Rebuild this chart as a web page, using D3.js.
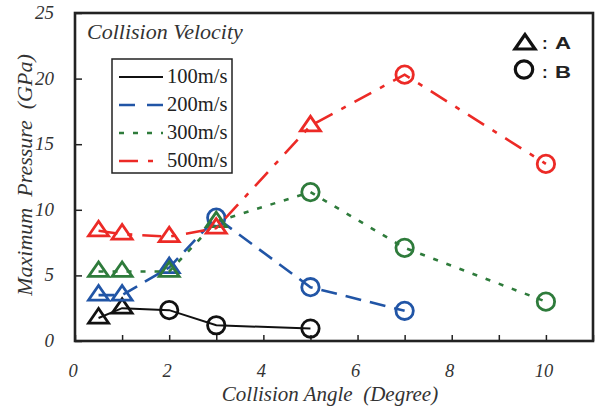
<!DOCTYPE html>
<html>
<head>
<meta charset="utf-8">
<script src="https://cdn.jsdelivr.net/npm/d3@7"></script>
<style>
  body { margin: 0; background: #fff; }
  svg { display: block; }
</style>
</head>
<body>
<div id="chart"></div>
<script>
// chart values
const xTicks = [0, 1, 2, 3, 4, 5, 6, 7, 8, 9, 10, 11];
const xTickLabels = [0, 2, 4, 6, 8, 10];
const yTicks = [0, 5, 10, 15, 20, 25];

const seriesNames = ["100m/s", "200m/s", "300m/s", "500m/s"];
const seriesColors = ["#111111", "#2155a6", "#2e7b3b", "#ec2a26"];

const v100X = [0.5, 1, 2, 3, 5];
const v100Y = [1.75, 2.5, 2.35, 1.2, 0.95];
const v100Type = ["A", "A", "B", "B", "B"];

const v200X = [0.5, 1, 2, 3, 5, 7];
const v200Y = [3.5, 3.5, 5.6, 9.4, 4.1, 2.3];
const v200Type = ["A", "A", "A", "B", "B", "B"];

const v300X = [0.5, 1, 2, 3, 5, 7, 10];
const v300Y = [5.3, 5.3, 5.3, 9.1, 11.35, 7.1, 3.0];
const v300Type = ["A", "A", "A", "A", "B", "B", "B"];

const v500X = [0.5, 1, 2, 3, 5, 7, 10];
const v500Y = [8.4, 8.15, 7.95, 8.6, 16.4, 20.3, 13.5];
const v500Type = ["A", "A", "A", "A", "A", "B", "B"];

const width = 595;
const height = 407;
const plotL = 75, plotR = 593, plotT = 13, plotB = 341;
const serif = "'Liberation Serif', 'Times New Roman', 'DejaVu Serif', serif";

const dashes = [null, "16,9", "5,9", "19,10,5,10"];

const svg = d3.select("#chart")
  .append("svg")
    .attr("width", width)
    .attr("height", height);

const x = d3.scaleLinear().domain([0, 11]).range([plotL, plotR]);
const y = d3.scaleLinear().domain([0, 25]).range([plotB, plotT]);

// axes with inward ticks
svg.append("g")
    .attr("transform", `translate(0,${plotB})`)
    .call(d3.axisTop(x).tickValues(xTicks).tickSize(6).tickFormat(""))
    .call(g => g.select(".domain").remove())
    .selectAll("line").attr("stroke", "#222").attr("stroke-width", 1.5);

svg.append("g")
    .attr("transform", `translate(${plotL},0)`)
    .call(d3.axisRight(y).tickValues(yTicks).tickSize(7).tickFormat(""))
    .call(g => g.select(".domain").remove())
    .selectAll("line").attr("stroke", "#222").attr("stroke-width", 1.5);

// frame
svg.append("rect")
    .attr("x", plotL).attr("y", plotT)
    .attr("width", plotR - plotL).attr("height", plotB - plotT)
    .attr("fill", "none").attr("stroke", "#222").attr("stroke-width", 2.6);

// tick labels
svg.append("g").selectAll("text")
  .data(yTicks)
  .join("text")
    .attr("x", plotL - 21)
    .attr("y", d => y(d) + 6)
    .attr("text-anchor", "end")
    .attr("font-family", serif)
    .attr("font-style", "italic")
    .attr("font-size", 19)
    .attr("fill", "#333")
    .text(d => d);

svg.append("g").selectAll("text")
  .data(xTickLabels)
  .join("text")
    .attr("x", d => x(d) - 2)
    .attr("y", 377)
    .attr("text-anchor", "middle")
    .attr("font-family", serif)
    .attr("font-style", "italic")
    .attr("font-size", 18.5)
    .attr("fill", "#333")
    .text(d => d);

// axis titles
svg.append("text")
    .attr("x", 330).attr("y", 401)
    .attr("text-anchor", "middle")
    .attr("font-family", serif)
    .attr("font-style", "italic")
    .attr("font-size", 21)
    .attr("fill", "#333")
    .attr("xml:space", "preserve")
    .text("Collision Angle  (Degree)");

svg.append("text")
    .attr("transform", "translate(32,175) rotate(-90)")
    .attr("text-anchor", "middle")
    .attr("font-family", serif)
    .attr("font-style", "italic")
    .attr("font-size", 22)
    .attr("fill", "#333")
    .attr("xml:space", "preserve")
    .text("Maximum  Pressure  (GPa)");

svg.append("text")
    .attr("x", 87).attr("y", 39)
    .attr("font-family", serif)
    .attr("font-style", "italic")
    .attr("font-size", 22)
    .attr("fill", "#333")
    .text("Collision Velocity");

// markers
const triPath = "M0,-9.5L-10,5L10,5Z";
function drawMarker(g, type, color) {
  if (type === "A") {
    g.append("path").attr("d", triPath);
  } else {
    g.append("circle").attr("r", 8.7);
  }
  g.selectAll("path, circle")
    .attr("fill", "none")
    .attr("stroke", color)
    .attr("stroke-width", 2.8)
    .attr("stroke-linejoin", "miter");
}

const allX = [v100X, v200X, v300X, v500X];
const allY = [v100Y, v200Y, v300Y, v500Y];
const allType = [v100Type, v200Type, v300Type, v500Type];

const line = d3.line().x(d => x(d.x)).y(d => y(d.y));

seriesNames.forEach((name, i) => {
  const pts = allX[i].map((v, j) => ({x: v, y: allY[i][j], t: allType[i][j]}));
  const g = svg.append("g");
  g.append("path")
      .datum(pts)
      .attr("d", line)
      .attr("fill", "none")
      .attr("stroke", seriesColors[i])
      .attr("stroke-width", i === 0 ? 2 : 2.6)
      .attr("stroke-dasharray", dashes[i]);
  pts.forEach(p => {
    const m = g.append("g").attr("transform", `translate(${x(p.x)},${y(p.y)})`);
    drawMarker(m, p.t, seriesColors[i]);
  });
});

// series legend
const legend = svg.append("g");
legend.append("rect")
    .attr("x", 112).attr("y", 59)
    .attr("width", 120).attr("height", 114)
    .attr("fill", "#fff").attr("stroke", "#222").attr("stroke-width", 1.5);
const legY = [77, 105, 133, 161];
seriesNames.forEach((name, i) => {
  legend.append("line")
      .attr("x1", 119).attr("x2", 163)
      .attr("y1", legY[i]).attr("y2", legY[i])
      .attr("stroke", seriesColors[i])
      .attr("stroke-width", i === 0 ? 2 : 2.6)
      .attr("stroke-dasharray", i === 0 ? null : (i === 1 ? "16,12" : (i === 2 ? "5,9" : "19,10,5,10")));
  legend.append("text")
      .attr("x", 167).attr("y", legY[i] + 6)
      .attr("font-family", serif)
      .attr("font-size", 20.5)
      .attr("fill", "#222")
      .text(name);
});

// marker legend
const mk = svg.append("g");
const tri = mk.append("g").attr("transform", "translate(525,44)");
drawMarker(tri, "A", "#111");
tri.select("path").attr("stroke-width", 3.2);
const circ = mk.append("g").attr("transform", "translate(524,69.5)");
drawMarker(circ, "B", "#111");
circ.select("circle").attr("stroke-width", 3.2);
[["A", 49], ["B", 78]].forEach(([t, yy]) => {
  mk.append("text").attr("x", 542).attr("y", yy)
    .attr("font-family", "Liberation Sans").attr("font-weight", "bold")
    .attr("font-size", 17).attr("fill", "#222").text(":");
  mk.append("text").attr("x", 555).attr("y", yy)
    .attr("font-family", "Liberation Sans").attr("font-weight", "bold")
    .attr("font-size", 17).attr("fill", "#222")
    .attr("textLength", 16).attr("lengthAdjust", "spacingAndGlyphs")
    .text(t);
});
</script>
</body>
</html>
